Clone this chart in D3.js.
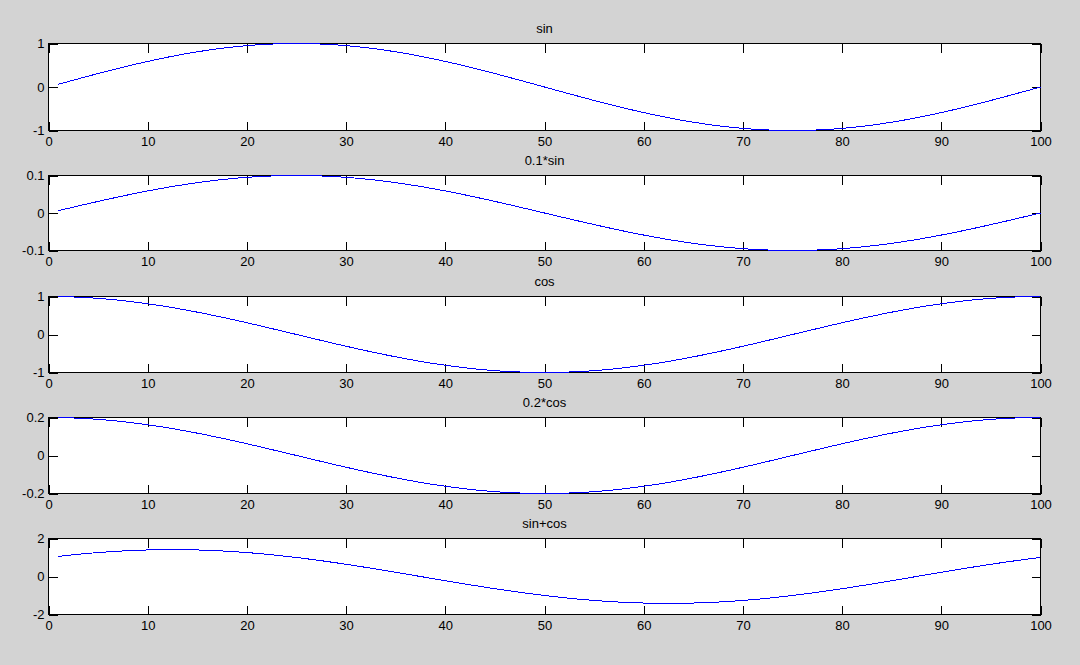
<!DOCTYPE html>
<meta charset="utf-8">

<!-- Load d3.js -->
<script src="https://d3js.org/d3.v7.min.js"></script>
<style>
  body { margin: 0; background: #d3d3d3; }
  text { font-family: Arial, "Liberation Sans", sans-serif; }
</style>

<div id="my_dataviz"></div>
<script>
  // sample positions
  const xValues = [1,2,3,4,5,6,7,8,9,10,11,12,13,14,15,16,17,18,19,20,
    21,22,23,24,25,26,27,28,29,30,31,32,33,34,35,36,37,38,39,40,
    41,42,43,44,45,46,47,48,49,50,51,52,53,54,55,56,57,58,59,60,
    61,62,63,64,65,66,67,68,69,70,71,72,73,74,75,76,77,78,79,80,
    81,82,83,84,85,86,87,88,89,90,91,92,93,94,95,96,97,98,99,100];

  const sinValues = [
    0.063,0.125,0.187,0.249,0.309,0.368,0.426,0.482,0.536,0.588,0.637,0.685,0.729,0.771,0.809,0.844,0.876,0.905,0.930,0.951,0.969,0.982,0.992,0.998,1.000,
    0.998,0.992,0.982,0.969,0.951,0.930,0.905,0.876,0.844,0.809,0.771,0.729,0.685,0.637,0.588,0.536,0.482,0.426,0.368,0.309,0.249,0.187,0.125,0.063,0.000,
    -0.063,-0.125,-0.187,-0.249,-0.309,-0.368,-0.426,-0.482,-0.536,-0.588,-0.637,-0.685,-0.729,-0.771,-0.809,-0.844,-0.876,-0.905,-0.930,-0.951,-0.969,-0.982,-0.992,-0.998,-1.000,
    -0.998,-0.992,-0.982,-0.969,-0.951,-0.930,-0.905,-0.876,-0.844,-0.809,-0.771,-0.729,-0.685,-0.637,-0.588,-0.536,-0.482,-0.426,-0.368,-0.309,-0.249,-0.187,-0.125,-0.063,0.000];

  const sinSmall = [
    0.0063,0.0125,0.0187,0.0249,0.0309,0.0368,0.0426,0.0482,0.0536,0.0588,0.0637,0.0685,0.0729,0.0771,0.0809,0.0844,0.0876,0.0905,0.0930,0.0951,0.0969,0.0982,0.0992,0.0998,0.1000,
    0.0998,0.0992,0.0982,0.0969,0.0951,0.0930,0.0905,0.0876,0.0844,0.0809,0.0771,0.0729,0.0685,0.0637,0.0588,0.0536,0.0482,0.0426,0.0368,0.0309,0.0249,0.0187,0.0125,0.0063,0.0000,
    -0.0063,-0.0125,-0.0187,-0.0249,-0.0309,-0.0368,-0.0426,-0.0482,-0.0536,-0.0588,-0.0637,-0.0685,-0.0729,-0.0771,-0.0809,-0.0844,-0.0876,-0.0905,-0.0930,-0.0951,-0.0969,-0.0982,-0.0992,-0.0998,-0.1000,
    -0.0998,-0.0992,-0.0982,-0.0969,-0.0951,-0.0930,-0.0905,-0.0876,-0.0844,-0.0809,-0.0771,-0.0729,-0.0685,-0.0637,-0.0588,-0.0536,-0.0482,-0.0426,-0.0368,-0.0309,-0.0249,-0.0187,-0.0125,-0.0063,0.0000];

  const cosValues = [
    0.998,0.992,0.982,0.969,0.951,0.930,0.905,0.876,0.844,0.809,0.771,0.729,0.685,0.637,0.588,0.536,0.482,0.426,0.368,0.309,0.249,0.187,0.125,0.063,0.000,
    -0.063,-0.125,-0.187,-0.249,-0.309,-0.368,-0.426,-0.482,-0.536,-0.588,-0.637,-0.685,-0.729,-0.771,-0.809,-0.844,-0.876,-0.905,-0.930,-0.951,-0.969,-0.982,-0.992,-0.998,-1.000,
    -0.998,-0.992,-0.982,-0.969,-0.951,-0.930,-0.905,-0.876,-0.844,-0.809,-0.771,-0.729,-0.685,-0.637,-0.588,-0.536,-0.482,-0.426,-0.368,-0.309,-0.249,-0.187,-0.125,-0.063,0.000,
    0.063,0.125,0.187,0.249,0.309,0.368,0.426,0.482,0.536,0.588,0.637,0.685,0.729,0.771,0.809,0.844,0.876,0.905,0.930,0.951,0.969,0.982,0.992,0.998,1.000];

  const cosSmall = [
    0.1996,0.1984,0.1964,0.1938,0.1902,0.1860,0.1810,0.1752,0.1688,0.1618,0.1542,0.1458,0.1370,0.1274,0.1176,0.1072,0.0964,0.0852,0.0736,0.0618,0.0498,0.0374,0.0250,0.0126,0.0000,
    -0.0126,-0.0250,-0.0374,-0.0498,-0.0618,-0.0736,-0.0852,-0.0964,-0.1072,-0.1176,-0.1274,-0.1370,-0.1458,-0.1542,-0.1618,-0.1688,-0.1752,-0.1810,-0.1860,-0.1902,-0.1938,-0.1964,-0.1984,-0.1996,-0.2000,
    -0.1996,-0.1984,-0.1964,-0.1938,-0.1902,-0.1860,-0.1810,-0.1752,-0.1688,-0.1618,-0.1542,-0.1458,-0.1370,-0.1274,-0.1176,-0.1072,-0.0964,-0.0852,-0.0736,-0.0618,-0.0498,-0.0374,-0.0250,-0.0126,0.0000,
    0.0126,0.0250,0.0374,0.0498,0.0618,0.0736,0.0852,0.0964,0.1072,0.1176,0.1274,0.1370,0.1458,0.1542,0.1618,0.1688,0.1752,0.1810,0.1860,0.1902,0.1938,0.1964,0.1984,0.1996,0.2000];

  const sinPlusCos = [
    1.061,1.117,1.169,1.218,1.260,1.298,1.331,1.358,1.380,1.397,1.408,1.414,1.414,1.408,1.397,1.380,1.358,1.331,1.298,1.260,1.218,1.169,1.117,1.061,1.000,
    0.935,0.867,0.795,0.720,0.642,0.562,0.479,0.394,0.308,0.221,0.134,0.044,-0.044,-0.134,-0.221,-0.308,-0.394,-0.479,-0.562,-0.642,-0.720,-0.795,-0.867,-0.935,-1.000,
    -1.061,-1.117,-1.169,-1.218,-1.260,-1.298,-1.331,-1.358,-1.380,-1.397,-1.408,-1.414,-1.414,-1.408,-1.397,-1.380,-1.358,-1.331,-1.298,-1.260,-1.218,-1.169,-1.117,-1.061,-1.000,
    -0.935,-0.867,-0.795,-0.720,-0.642,-0.562,-0.479,-0.394,-0.308,-0.221,-0.134,-0.044,0.044,0.134,0.221,0.308,0.394,0.479,0.562,0.642,0.720,0.795,0.867,0.935,1.000];

  const titles = ["sin", "0.1*sin", "cos", "0.2*cos", "sin+cos"];
  const yTicks = [[-1, 0, 1], [-0.1, 0, 0.1], [-1, 0, 1], [-0.2, 0, 0.2], [-2, 0, 2]];
  const yTickLabels = [["-1","0","1"], ["-0.1","0","0.1"], ["-1","0","1"], ["-0.2","0","0.2"], ["-2","0","2"]];
  const xTicks = [0, 10, 20, 30, 40, 50, 60, 70, 80, 90, 100];
  const series = [sinValues, sinSmall, cosValues, cosSmall, sinPlusCos];

  // panel boxes (pixel rows of each subplot)
  const tops = [43.5, 175.5, 296.5, 417.5, 538.5];
  const bottoms = [130.5, 250.5, 372.5, 493.5, 614.5];
  const left = 48.5, right = 1040.5;

  var svg = d3.select("#my_dataviz")
    .append("svg")
      .attr("width", 1080)
      .attr("height", 665)
      .style("display", "block");

  var x = d3.scaleLinear().domain([0, 100]).range([left, right]);

  series.forEach(function(vals, p) {
    var y = d3.scaleLinear()
      .domain([yTicks[p][0], yTicks[p][2]])
      .range([bottoms[p], tops[p]]);

    var g = svg.append("g");

    // plot area
    g.append("rect")
      .attr("x", left).attr("y", tops[p])
      .attr("width", right - left).attr("height", bottoms[p] - tops[p])
      .attr("fill", "white");

    // axes, ticks pointing inward
    var bottomAxis = g.append("g")
      .attr("transform", "translate(0," + bottoms[p] + ")")
      .call(d3.axisBottom(x).tickValues(xTicks).tickSize(-9).tickSizeOuter(0).tickPadding(6));
    var topAxis = g.append("g")
      .attr("transform", "translate(0," + tops[p] + ")")
      .call(d3.axisTop(x).tickValues(xTicks).tickSize(-9).tickSizeOuter(0).tickFormat(""));
    var leftAxis = g.append("g")
      .attr("transform", "translate(" + left + ",0)")
      .call(d3.axisLeft(y).tickValues(yTicks[p]).tickSize(-9).tickSizeOuter(0).tickPadding(4)
        .tickFormat(function(d, i) { return yTickLabels[p][i]; }));
    var rightAxis = g.append("g")
      .attr("transform", "translate(" + right + ",0)")
      .call(d3.axisRight(y).tickValues(yTicks[p]).tickSize(-9).tickSizeOuter(0).tickFormat(""));

    [bottomAxis, topAxis, leftAxis, rightAxis].forEach(function(a) {
      a.select(".domain").remove();
      a.selectAll("line").attr("stroke", "black").style("shape-rendering", "crispEdges");
      a.selectAll("text")
        .attr("fill", "black")
        .style("font-size", "13px")
        .style("font-family", "Arial, 'Liberation Sans', sans-serif");
    });

    // box
    g.append("rect")
      .attr("x", left).attr("y", tops[p])
      .attr("width", right - left).attr("height", bottoms[p] - tops[p])
      .attr("fill", "none")
      .attr("stroke", "black")
      .style("shape-rendering", "crispEdges");

    // the curve, drawn over the box like the original
    var line = d3.line()
      .x(function(d, i) { return x(xValues[i]); })
      .y(function(d) { return y(d); });
    g.append("path")
      .datum(vals)
      .attr("d", line)
      .attr("fill", "none")
      .attr("stroke", "#0000ff")
      .attr("stroke-width", 1)
      .style("shape-rendering", "crispEdges");

    // title
    g.append("text")
      .attr("x", (left + right) / 2)
      .attr("y", tops[p] - 10.5)
      .attr("text-anchor", "middle")
      .style("font-size", "13px")
      .text(titles[p]);
  });
</script>

</body>
</html>
